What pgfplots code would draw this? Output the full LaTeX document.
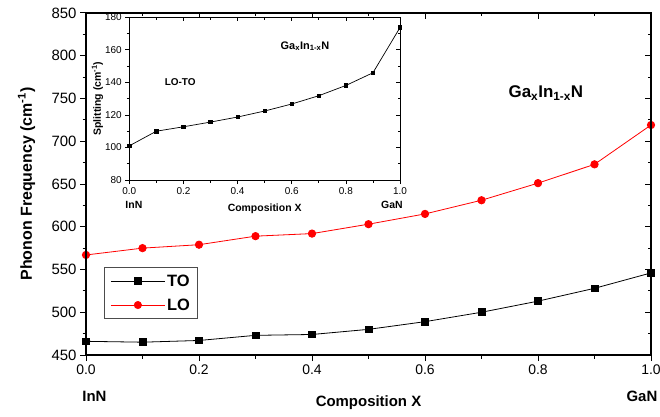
\documentclass[border=0pt]{standalone}
\usepackage{fontspec}
\setmainfont{Liberation Sans}
\usepackage{pgfplots}
\pgfplotsset{compat=1.18}
\begin{document}
\begin{tikzpicture}[x=1bp,y=1bp]
\useasboundingbox (0,0) rectangle (660,416);
\pgfplotsset{
  myticks/.style={/pgf/number format/assume math mode=true,
    xticklabel style={/pgf/number format/fixed,/pgf/number format/fixed zerofill,/pgf/number format/precision=1}},
}
% ---------- main axis ----------
\begin{axis}[at={(86bp,61bp)}, anchor=south west, scale only axis,
  width=565bp, height=342bp,
  xmin=0, xmax=1, ymin=450, ymax=850,
  xtick={0,0.2,0.4,0.6,0.8,1.0}, minor x tick num=1,
  ytick={450,500,...,850}, minor y tick num=1,
  tick align=outside, xtick pos=left, ytick pos=left,
  major tick length=6bp, minor tick length=3.5bp,
  axis line style={line width=1.3bp}, every tick/.style={line width=1bp, black},
  myticks,
  xticklabel style={font=\fontsize{14}{16}\selectfont},
  yticklabel style={font=\fontsize{15}{17}\selectfont},
  xlabel={\textbf{Composition X}},
  ylabel={\textbf{Phonon Frequency (cm\textsuperscript{-1})}},
  xlabel style={font=\fontsize{15}{17}\selectfont, at={(axis description cs:0.5,-0.14)}, anchor=center},
  ylabel style={font=\fontsize{16}{18}\selectfont, at={(axis description cs:-0.105,0.5)}, anchor=center},
  clip=false,
  legend style={at={(0.032,0.257)}, anchor=north west, draw=black!70, line width=1bp,
    font=\bfseries\fontsize{16.5}{18}\selectfont, row sep=7bp, inner xsep=6bp, inner ysep=5bp},
  legend cell align=left,
  legend image code/.code={\draw[mark repeat=2,mark phase=2, line width=0.6bp] plot coordinates {(0bp,0bp) (27bp,0bp) (54bp,0bp)};},
]
\addplot[black, line width=0.8bp, mark=square*, mark size=3.4bp, mark options={solid}] coordinates {
(0,466) (0.1,465) (0.2,467) (0.3,473) (0.4,474) (0.5,480) (0.6,489) (0.7,500) (0.8,513) (0.9,528) (1.0,546)};
\addlegendentry{TO}
\addplot[red, line width=0.8bp, mark=*, mark size=3.7bp] coordinates {
(0,567) (0.1,575) (0.2,579) (0.3,589) (0.4,592) (0.5,603) (0.6,615) (0.7,631) (0.8,651) (0.9,673) (1.0,719)};
\addlegendentry{LO}
\node[font=\bfseries\fontsize{15}{17}\selectfont] at (axis description cs:0.015,-0.12) {InN};
\node[font=\bfseries\fontsize{15}{17}\selectfont] at (axis description cs:0.984,-0.12) {GaN};
\node[font=\bfseries\fontsize{17}{19}\selectfont] at (axis description cs:0.814,0.766) {Ga\textsubscript{x}In\textsubscript{1-x}N};
\end{axis}
% ---------- main axis: top/right inward ticks ----------
\begin{axis}[at={(86bp,61bp)}, anchor=south west, scale only axis,
  width=565bp, height=342bp,
  xmin=0, xmax=1, ymin=450, ymax=850,
  xtick={0,0.2,0.4,0.6,0.8,1.0}, minor x tick num=1,
  ytick={450,500,...,850}, minor y tick num=1,
  tick align=inside, xtick pos=right, ytick pos=right,
  major tick length=6bp, minor tick length=3.5bp,
  axis line style={line width=1.3bp}, every tick/.style={line width=1bp, black},
  xticklabels={}, yticklabels={},
]
\end{axis}
% ---------- inset ----------
\begin{axis}[at={(129.3bp,236bp)}, anchor=south west, scale only axis,
  width=270.7bp, height=162.7bp,
  xmin=0, xmax=1, ymin=80, ymax=180,
  xtick={0,0.2,0.4,0.6,0.8,1.0}, minor x tick num=1,
  ytick={80,100,...,180}, minor y tick num=1,
  tick align=outside, xtick pos=left, ytick pos=left,
  major tick length=4bp, minor tick length=2.5bp,
  axis line style={line width=0.8bp}, every tick/.style={line width=0.7bp, black},
  axis background/.style={fill=white},
  myticks,
  tick label style={font=\fontsize{10}{12}\selectfont},
  xlabel={\textbf{Composition X}},
  ylabel={\textbf{Splitting (cm\textsuperscript{-1})}},
  label style={font=\fontsize{10.5}{12}\selectfont},
  xlabel style={at={(axis description cs:0.5,-0.178)}, anchor=center},
  ylabel style={at={(axis description cs:-0.118,0.5)}, anchor=center},
  clip=false,
]
\addplot[black, line width=0.7bp, mark=square*, mark size=1.7bp] coordinates {
(0,101) (0.1,110) (0.2,112.7) (0.3,115.6) (0.4,118.7) (0.5,122.4) (0.6,126.7) (0.7,131.8) (0.8,138.1) (0.9,145.9) (1.0,173.7)};
\node[font=\bfseries\fontsize{10.5}{12}\selectfont] at (axis description cs:0.017,-0.154) {InN};
\node[font=\bfseries\fontsize{10.5}{12}\selectfont] at (axis description cs:0.97,-0.154) {GaN};
\node[font=\bfseries\fontsize{10}{12}\selectfont] at (axis description cs:0.188,0.602) {LO-TO};
\node[font=\bfseries\fontsize{11}{13}\selectfont] at (axis description cs:0.649,0.823) {Ga\textsubscript{x}In\textsubscript{1-x}N};
\end{axis}
\begin{axis}[at={(129.3bp,236bp)}, anchor=south west, scale only axis,
  width=270.7bp, height=162.7bp,
  xmin=0, xmax=1, ymin=80, ymax=180,
  xtick={0,0.2,0.4,0.6,0.8,1.0}, minor x tick num=1,
  ytick={80,100,...,180}, minor y tick num=1,
  tick align=inside, xtick pos=right, ytick pos=right,
  major tick length=4bp, minor tick length=2.5bp,
  axis line style={line width=0.8bp}, every tick/.style={line width=0.7bp, black},
  xticklabels={}, yticklabels={},
]
\end{axis}
\end{tikzpicture}
\end{document}
